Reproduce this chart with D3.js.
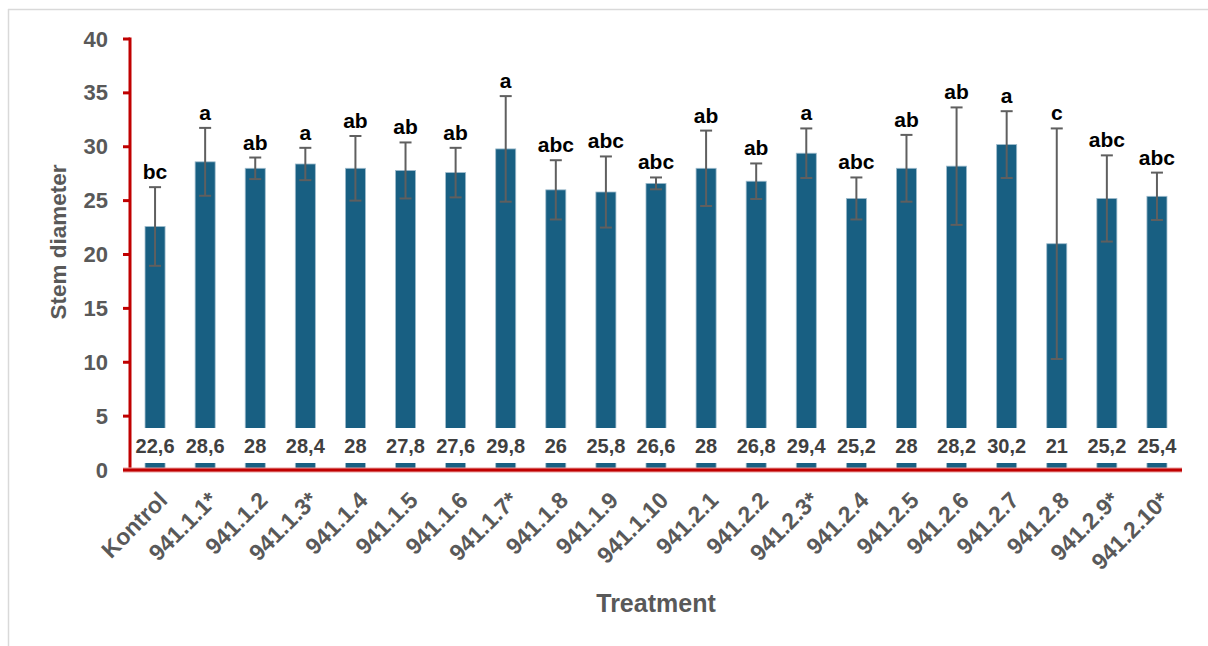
<!DOCTYPE html>
<html>
<head>
<meta charset="utf-8">
<script src="https://cdn.jsdelivr.net/npm/d3@7/dist/d3.min.js"></script>
<style>
  html, body { margin: 0; padding: 0; background: #fff; }
  svg { display: block; font-family: "Liberation Sans", Arial, sans-serif; }
</style>
</head>
<body>
<svg id="chart" width="1208" height="646"></svg>
<script>
// Stem diameter per treatment: means, standard deviations and significance groups
const treatments = ["Kontrol", "941.1.1*", "941.1.2", "941.1.3*", "941.1.4", "941.1.5", "941.1.6",
  "941.1.7*", "941.1.8", "941.1.9", "941.1.10", "941.2.1", "941.2.2", "941.2.3*", "941.2.4",
  "941.2.5", "941.2.6", "941.2.7", "941.2.8", "941.2.9*", "941.2.10*"];
const means = [22.6, 28.6, 28, 28.4, 28, 27.8, 27.6, 29.8, 26, 25.8, 26.6, 28, 26.8, 29.4, 25.2,
  28, 28.2, 30.2, 21, 25.2, 25.4];
const errors = [3.65, 3.15, 1.0, 1.5, 3.0, 2.6, 2.3, 4.9, 2.75, 3.3, 0.55, 3.5, 1.65, 2.3, 1.95,
  3.1, 5.45, 3.1, 10.7, 4.0, 2.2];
const groups = ["bc", "a", "ab", "a", "ab", "ab", "ab", "a", "abc", "abc", "abc", "ab", "ab", "a",
  "abc", "ab", "ab", "a", "c", "abc", "abc"];
const yTicks = [0, 5, 10, 15, 20, 25, 30, 35, 40];

const svg = d3.select("#chart");
const W = 1208, H = 646;
const plot = { left: 130, right: 1182, top: 39, bottom: 470 };

const axisRed = "#c00000";
const textGray = "#595959";
const barFill = "#185f82";

// outer frame (only top and left edges fall inside the canvas)
svg.append("line").attr("x1", 8.5).attr("y1", 9).attr("x2", 8.5).attr("y2", H)
  .attr("stroke", "#d9d9d9").attr("stroke-width", 1.5);
svg.append("line").attr("x1", 8).attr("y1", 9.5).attr("x2", W).attr("y2", 9.5)
  .attr("stroke", "#d9d9d9").attr("stroke-width", 1.5);

const x = d3.scaleBand().domain(treatments).range([plot.left, plot.right]).paddingInner(0.6).paddingOuter(0.3);
const y = d3.scaleLinear().domain([0, 40]).range([plot.bottom, plot.top]);

const data = treatments.map((t, i) => ({ t, m: means[i], e: errors[i], g: groups[i] }));

// bars
svg.append("g").selectAll("rect").data(data).join("rect")
  .attr("x", d => x(d.t))
  .attr("y", d => y(d.m))
  .attr("width", x.bandwidth())
  .attr("height", d => y(0) - y(d.m))
  .attr("fill", barFill)
  .attr("stroke", "#9fbccd")
  .attr("stroke-width", 0.8);

// error bars
const eb = svg.append("g").attr("stroke", "#5f5f5f").attr("stroke-width", 2);
data.forEach(d => {
  const cx = x(d.t) + x.bandwidth() / 2;
  const lo = Math.max(0, d.m - d.e), hi = d.m + d.e;
  eb.append("line").attr("x1", cx).attr("x2", cx).attr("y1", y(lo)).attr("y2", y(hi));
  eb.append("line").attr("x1", cx - 6).attr("x2", cx + 6).attr("y1", y(hi)).attr("y2", y(hi));
  eb.append("line").attr("x1", cx - 6).attr("x2", cx + 6).attr("y1", y(lo)).attr("y2", y(lo));
});

// significance letters
svg.append("g").selectAll("text").data(data).join("text")
  .attr("x", d => x(d.t) + x.bandwidth() / 2)
  .attr("y", d => y(d.m + d.e) - 8)
  .attr("text-anchor", "middle")
  .attr("font-size", 21)
  .attr("font-weight", "bold")
  .attr("fill", "#000")
  .text(d => d.g);

// value labels on white boxes near the base
const vl = svg.append("g");
data.forEach(d => {
  const cx = x(d.t) + x.bandwidth() / 2;
  const g = vl.append("g");
  const r = g.append("rect").attr("fill", "#fff");
  const t = g.append("text")
    .attr("x", cx).attr("y", 446)
    .attr("text-anchor", "middle")
    .attr("dominant-baseline", "central")
    .attr("font-size", 20)
    .attr("font-weight", "bold")
    .attr("fill", "#404040")
    .text(String(d.m).replace(".", ","));
  const bb = t.node().getBBox();
  r.attr("x", bb.x - 3).attr("width", bb.width + 6).attr("y", 428).attr("height", 35);
});

// y axis
const yAxis = svg.append("g");
yAxis.append("line").attr("x1", plot.left).attr("x2", plot.left)
  .attr("y1", y(40) - 1.5).attr("y2", y(0))
  .attr("stroke", axisRed).attr("stroke-width", 3);
yAxis.selectAll("line.tick").data(yTicks.filter(v => v > 0)).join("line")
  .attr("class", "tick")
  .attr("x1", plot.left - 7).attr("x2", plot.left)
  .attr("y1", d => y(d)).attr("y2", d => y(d))
  .attr("stroke", axisRed).attr("stroke-width", 3);
yAxis.selectAll("text").data(yTicks).join("text")
  .attr("x", 108).attr("y", d => y(d))
  .attr("text-anchor", "end")
  .attr("dominant-baseline", "central")
  .attr("font-size", 22)
  .attr("font-weight", "bold")
  .attr("fill", textGray)
  .text(d => d);

// x axis
svg.append("line").attr("x1", plot.left - 7).attr("x2", plot.right)
  .attr("y1", y(0)).attr("y2", y(0))
  .attr("stroke", "#e8a0a0").attr("stroke-width", 5);
svg.append("line").attr("x1", plot.left - 7).attr("x2", plot.right)
  .attr("y1", y(0)).attr("y2", y(0))
  .attr("stroke", axisRed).attr("stroke-width", 3);

// category labels
svg.append("g").selectAll("text").data(treatments).join("text")
  .attr("transform", d => `translate(${x(d) + x.bandwidth() / 2 + 2},${490}) rotate(-45)`)
  .attr("text-anchor", "end")
  .attr("dy", "0.72em")
  .attr("font-size", 23)
  .attr("font-weight", "bold")
  .attr("fill", textGray)
  .text(d => d);

// axis titles
svg.append("text")
  .attr("x", 656).attr("y", 612)
  .attr("text-anchor", "middle")
  .attr("font-size", 25)
  .attr("font-weight", "bold")
  .attr("fill", textGray)
  .text("Treatment");

svg.append("text")
  .attr("transform", "translate(66,242) rotate(-90)")
  .attr("text-anchor", "middle")
  .attr("font-size", 22.5)
  .attr("font-weight", "bold")
  .attr("fill", textGray)
  .text("Stem diameter");
</script>
</body>
</html>
